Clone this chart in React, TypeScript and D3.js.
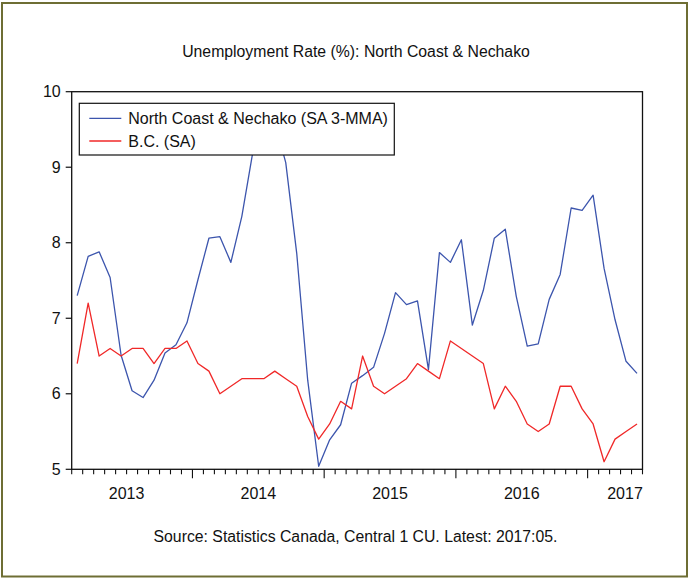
import React from "react";
import * as d3 from "d3";

// Monthly data, Feb 2013 .. May 2017
const startYear = 2013;
const startMonth = 2; // February
const northCoast = [
  7.30, 7.82, 7.88, 7.54, 6.51, 6.04, 5.95, 6.18, 6.54, 6.65, 6.94,
  7.51, 8.06, 8.08, 7.74, 8.35, 9.2, 9.7, 9.6, 9.06, 7.86, 6.18, 5.04, 5.39, 5.59, 6.14, 6.24,
  6.35, 6.80, 7.34, 7.18, 7.23, 6.32, 7.87, 7.74, 8.04, 6.91, 7.37, 8.06, 8.18,
  7.29, 6.63, 6.66, 7.25, 7.58, 8.46, 8.43, 8.63, 7.66, 6.98, 6.43, 6.27,
];
const bc = [
  6.4, 7.2, 6.5, 6.6, 6.5, 6.6, 6.6, 6.4, 6.6, 6.6, 6.7,
  6.4, 6.3, 6.0, 6.1, 6.2, 6.2, 6.2, 6.3, 6.2, 6.1, 5.7, 5.4, 5.6, 5.9, 5.8, 6.5,
  6.1, 6.0, 6.1, 6.2, 6.4, 6.3, 6.2, 6.7, 6.6, 6.5, 6.4, 5.8, 6.1,
  5.9, 5.6, 5.5, 5.6, 6.1, 6.1, 5.8, 5.6, 5.1, 5.4, 5.5, 5.6,
];
const yTicks = [5, 6, 7, 8, 9, 10];
const yearLabels = ["2013", "2014", "2015", "2016", "2017"];
const seriesNames = ["North Coast & Nechako (SA 3-MMA)", "B.C. (SA)"];
const title = "Unemployment Rate (%): North Coast & Nechako";
const source = "Source: Statistics Canada, Central 1 CU. Latest: 2017:05.";

const W = 689;
const H = 578;
const FONT = "'Liberation Sans', Arial, sans-serif";
const BLUE = "#3c55ad";
const RED = "#f02828";

export default function App() {
  const left = 71.7;
  const right = 642.5;
  const top = 91.7;
  const bottom = 469.3;
  const n = northCoast.length;

  const x = d3.scaleLinear().domain([0, n]).range([left, right]);
  const y = d3.scaleLinear().domain([5, 10]).range([bottom, top]);

  const line = d3
    .line<number>()
    .x((_, i) => x(i + 0.5))
    .y((d) => y(d));

  const monthTicks = d3.range(0, n + 1);
  // index of January positions: month index (0 = Feb startYear)
  const isJan = (i: number) => (startMonth - 1 + i) % 12 === 0;

  const yearPos = yearLabels.map((lab) => {
    const yr = +lab;
    const s = (yr - startYear) * 12 - (startMonth - 1);
    let c = x(s + 6);
    const half = 17.5;
    c = Math.min(c, right - half);
    c = Math.max(c, left + half);
    return c;
  });

  const legX = 79.3;
  const legY = 103.3;
  const legW = 315;
  const legH = 51.7;

  return (
    <svg
      width={W}
      height={H}
      style={{ position: "absolute", left: 0, top: 0, background: "#fff" }}
      fontFamily={FONT}
    >
      <rect x={0} y={0} width={W} height={H} fill="#fff" />
      <rect x={2} y={3} width={685} height={573.5} fill="none" stroke="#6e6e34" strokeWidth={2} />

      <text x={356} y={56.5} textAnchor="middle" fontSize={15.8} fill="#111">
        {title}
      </text>

      {/* lines */}
      <path d={line(northCoast) || ""} fill="none" stroke={BLUE} strokeWidth={1.3} strokeLinejoin="round" />
      <path d={line(bc) || ""} fill="none" stroke={RED} strokeWidth={1.3} strokeLinejoin="round" />

      {/* frame */}
      <rect x={left} y={top} width={right - left} height={bottom - top} fill="none" stroke="#111" strokeWidth={1.3} />

      {/* y ticks */}
      {yTicks.map((t) => (
        <g key={t}>
          <line x1={left - 6} x2={left} y1={y(t)} y2={y(t)} stroke="#111" strokeWidth={1.2} />
          <text x={left - 11} y={y(t)} dy="0.35em" textAnchor="end" fontSize={16} fill="#111">
            {t}
          </text>
        </g>
      ))}

      {/* x ticks */}
      {monthTicks.map((i) => (
        <line
          key={i}
          x1={x(i)}
          x2={x(i)}
          y1={bottom}
          y2={bottom + (isJan(i) ? 9 : 5)}
          stroke="#111"
          strokeWidth={1.1}
        />
      ))}
      {yearLabels.map((lab, k) => (
        <text key={lab} x={yearPos[k]} y={499} textAnchor="middle" fontSize={16} fill="#111">
          {lab}
        </text>
      ))}

      {/* legend */}
      <rect x={legX} y={legY} width={legW} height={legH} fill="#fff" stroke="#111" strokeWidth={1.2} />
      {seriesNames.map((name, k) => {
        const cy = legY + 15 + k * 22.7;
        return (
          <g key={name}>
            <line x1={legX + 10} x2={legX + 42} y1={cy} y2={cy} stroke={k === 0 ? BLUE : RED} strokeWidth={1.3} />
            <text x={legX + 49} y={cy} dy="0.36em" fontSize={16} fill="#111">
              {name}
            </text>
          </g>
        );
      })}

      <text x={355.5} y={541.5} textAnchor="middle" fontSize={15.8} fill="#111">
        {source}
      </text>
    </svg>
  );
}
